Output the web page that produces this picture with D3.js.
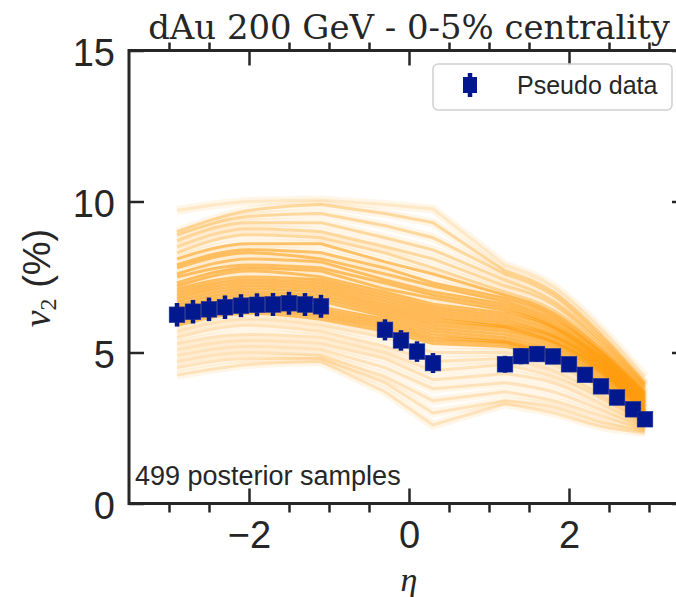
<!DOCTYPE html>
<html>
<head>
<meta charset="utf-8">
<script src="https://cdn.jsdelivr.net/npm/d3@7"></script>
<style>
  body { margin: 0; background: #fff; }
  svg { display: block; }
</style>
</head>
<body>
<div id="container"></div>
<script>
'use strict';

// pseudo data points (eta, v2 in %, error)
const dataEta = [-2.9, -2.7, -2.5, -2.3, -2.1, -1.9, -1.7, -1.5, -1.3, -1.1,
                 -0.3, -0.1, 0.1, 0.3,
                 1.2, 1.4, 1.6, 1.8, 2.0, 2.2, 2.4, 2.6, 2.8, 2.95];
const dataV2 = [6.25, 6.35, 6.43, 6.50, 6.55, 6.58, 6.59, 6.63, 6.59, 6.53,
                5.75, 5.40, 5.03, 4.65,
                4.61, 4.88, 4.95, 4.87, 4.61, 4.26, 3.88, 3.51, 3.12, 2.79];
const dataErr = [0.39, 0.39, 0.39, 0.39, 0.38, 0.38, 0.38, 0.38, 0.38, 0.38,
                 0.35, 0.34, 0.34, 0.33,
                 0.28, 0.27, 0.26, 0.25, 0.2, 0.2, 0.2, 0.2, 0.2, 0.2];

// posterior sample curves, read at these eta knots
const sampleEta = [-2.9, -2.0, -1.1, -0.3, 0.3, 1.2, 1.8, 2.4, 2.95];
const samples = [
  [9.7, 10.0, 10.05, 9.9, 9.75, 7.9, 7.2, 5.8, 4.2],
  [9.0, 9.7, 9.9, 9.6, 9.3, 7.7, 7.0, 5.6, 4.0],
  [8.9, 9.5, 9.6, 9.2, 8.8, 7.6, 6.9, 5.5, 3.95],
  [8.7, 9.3, 9.3, 8.8, 8.4, 7.4, 6.7, 5.4, 3.9],
  [8.5, 9.1, 9.0, 8.5, 8.1, 7.2, 6.6, 5.3, 3.85],
  [8.3, 8.9, 8.8, 8.3, 7.8, 7.0, 6.4, 5.2, 3.8],
  [8.1, 8.6, 8.6, 8.0, 7.6, 6.9, 6.3, 5.1, 3.7],
  [7.9, 8.4, 8.3, 7.8, 7.3, 6.8, 6.2, 5.0, 3.65],
  [7.8, 8.3, 8.1, 7.6, 7.2, 6.7, 6.1, 5.0, 3.6],
  [7.6, 8.1, 8.0, 7.4, 7.0, 6.6, 6.0, 4.9, 3.55],
  [7.5, 7.9, 7.8, 7.3, 6.9, 6.5, 5.9, 4.85, 3.5],
  [7.3, 7.8, 7.7, 7.1, 6.8, 6.4, 5.85, 4.8, 3.45],
  [7.2, 7.7, 7.5, 7.0, 6.6, 6.3, 5.8, 4.75, 3.4],
  [7.1, 7.5, 7.4, 6.9, 6.5, 6.2, 5.7, 4.7, 3.35],
  [7.0, 7.4, 7.3, 6.8, 6.4, 6.1, 5.6, 4.65, 3.3],
  [6.9, 7.3, 7.2, 6.7, 6.3, 6.0, 5.55, 4.6, 3.25],
  [6.8, 7.2, 7.1, 6.6, 6.2, 5.9, 5.5, 4.55, 3.2],
  [6.7, 7.1, 7.0, 6.5, 6.1, 5.85, 5.4, 4.5, 3.15],
  [6.6, 7.0, 6.9, 6.4, 6.0, 5.8, 5.35, 4.45, 3.1],
  [6.5, 6.9, 6.8, 6.3, 5.9, 5.7, 5.3, 4.4, 3.05],
  [6.4, 6.8, 6.7, 6.2, 5.8, 5.6, 5.2, 4.35, 3.0],
  [6.3, 6.7, 6.5, 6.1, 5.7, 5.5, 5.1, 4.3, 2.95],
  [6.2, 6.6, 6.4, 6.0, 5.6, 5.4, 5.0, 4.2, 2.9],
  [6.1, 6.5, 6.3, 5.9, 5.5, 5.35, 4.9, 4.1, 2.85],
  [6.0, 6.4, 6.2, 5.8, 5.4, 5.3, 4.85, 4.0, 2.8],
  [5.9, 6.3, 6.1, 5.7, 5.3, 5.2, 4.8, 3.9, 2.75],
  [5.7, 6.1, 5.9, 5.5, 5.0, 5.0, 4.6, 3.8, 2.7],
  [5.5, 5.9, 5.7, 5.2, 4.7, 4.8, 4.4, 3.6, 2.65],
  [5.3, 5.6, 5.5, 5.0, 4.4, 4.6, 4.2, 3.5, 2.6],
  [5.1, 5.4, 5.3, 4.8, 4.1, 4.3, 4.0, 3.3, 2.55],
  [4.9, 5.2, 5.1, 4.5, 3.8, 4.0, 3.7, 3.1, 2.5],
  [4.7, 5.0, 4.9, 4.2, 3.4, 3.7, 3.4, 2.9, 2.45],
  [4.5, 4.8, 4.8, 4.0, 3.0, 3.4, 3.2, 2.7, 2.4],
  [4.25, 4.6, 4.7, 3.7, 2.6, 3.3, 3.0, 2.55, 2.35]
];

const xMajor = [-2, 0, 2];
const xMinor = [-3, -2.5, -1.5, -1, -0.5, 0.5, 1, 1.5, 2.5, 3];
const yMajor = [0, 5, 10, 15];

const w = 676;
const h = 597;
const plotLeft = 129, plotRight = 689, plotTop = 50.5, plotBottom = 503.5;
const ink = '#262626';
const sansFont = '"Liberation Sans", Arial, sans-serif';

const svg = d3.select('#container')
  .append('svg')
  .attr('width', w)
  .attr('height', h);

const x = d3.scaleLinear().domain([-3.5, 3.5]).range([plotLeft, plotRight]);
const y = d3.scaleLinear().domain([0, 15]).range([plotBottom, plotTop]);

svg.append('clipPath').attr('id', 'plot-clip')
  .append('rect')
  .attr('x', plotLeft).attr('y', plotTop)
  .attr('width', plotRight - plotLeft).attr('height', plotBottom - plotTop);

// posterior sample lines: smooth inside the measured groups, straight across the gaps
const smooth = d3.line()
  .x((d) => x(d[0]))
  .y((d) => y(d[1]))
  .curve(d3.curveMonotoneX);
const straight = d3.line()
  .x((d) => x(d[0]))
  .y((d) => y(d[1]));
const samplePath = (vals) => {
  const pts = vals.map((v, i) => [sampleEta[i], v]);
  const a = smooth(pts.slice(0, 3));
  const b = straight(pts.slice(2, 6)).replace(/^M[^L]*/, '');
  const c = smooth(pts.slice(5)).replace(/^M[^CL]*/, '');
  return a + b + c;
};

const orange = '#ff9800';
const lines = svg.append('g').attr('clip-path', 'url(#plot-clip)');
lines.selectAll('path.halo')
  .data(samples)
  .enter()
  .append('path')
  .attr('class', 'halo')
  .attr('d', samplePath)
  .attr('fill', 'none')
  .attr('stroke', orange)
  .attr('stroke-width', 9)
  .attr('stroke-opacity', 0.09);
lines.selectAll('path.sample')
  .data(samples)
  .enter()
  .append('path')
  .attr('class', 'sample')
  .attr('d', samplePath)
  .attr('fill', 'none')
  .attr('stroke', orange)
  .attr('stroke-width', 3)
  .attr('stroke-opacity', (d, i) => i === 0 ? 0.15 : i < 6 ? 0.32 : i < 26 ? 0.55 : 0.2);

// pseudo data
const pts = svg.append('g');
const blue = '#02188f';
pts.selectAll('line')
  .data(dataEta)
  .enter()
  .append('line')
  .attr('x1', (d) => x(d))
  .attr('x2', (d) => x(d))
  .attr('y1', (d, i) => y(dataV2[i] - dataErr[i]))
  .attr('y2', (d, i) => y(dataV2[i] + dataErr[i]))
  .attr('stroke', blue)
  .attr('stroke-width', 4.5);
pts.selectAll('rect')
  .data(dataEta)
  .enter()
  .append('rect')
  .attr('x', (d) => x(d) - 7.8)
  .attr('y', (d, i) => y(dataV2[i]) - 7.8)
  .attr('width', 15.6)
  .attr('height', 15.6)
  .attr('fill', blue)
  .attr('stroke', '#1a2f9a')
  .attr('stroke-width', 0.6);

// axes: major ticks point inward, minor ticks outward
function styleAxis(g) {
  g.select('.domain').remove();
  g.selectAll('line').attr('stroke', ink).attr('stroke-width', 2.5);
  g.selectAll('text')
    .attr('fill', ink)
    .attr('font-family', sansFont)
    .attr('font-size', 38);
}

svg.append('g')
  .attr('transform', 'translate(0,' + plotBottom + ')')
  .call(d3.axisBottom(x).tickValues(xMajor).tickSize(-15).tickPadding(18)
    .tickFormat((d) => d < 0 ? '\u2212' + Math.abs(d) : d))
  .call(styleAxis);
svg.append('g')
  .attr('transform', 'translate(0,' + plotBottom + ')')
  .call(d3.axisBottom(x).tickValues(xMinor).tickSize(9).tickFormat(''))
  .call(styleAxis);
svg.append('g')
  .attr('transform', 'translate(0,' + plotTop + ')')
  .call(d3.axisTop(x).tickValues(xMajor).tickSize(-15).tickFormat(''))
  .call(styleAxis);
svg.append('g')
  .attr('transform', 'translate(0,' + plotTop + ')')
  .call(d3.axisTop(x).tickValues(xMinor).tickSize(8).tickFormat(''))
  .call(styleAxis);
svg.append('g')
  .attr('transform', 'translate(' + plotLeft + ',0)')
  .call(d3.axisLeft(y).tickValues(yMajor).tickSize(-15).tickPadding(14))
  .call(styleAxis)
  .selectAll('text').attr('dy', '0.4em');
svg.append('g')
  .attr('transform', 'translate(' + plotRight + ',0)')
  .call(d3.axisRight(y).tickValues(yMajor).tickSize(-17).tickFormat(''))
  .call(styleAxis);

// spines
svg.append('rect')
  .attr('x', plotLeft).attr('y', plotTop)
  .attr('width', plotRight - plotLeft).attr('height', plotBottom - plotTop)
  .attr('fill', 'none')
  .attr('stroke', ink)
  .attr('stroke-width', 3);

// axis labels
svg.append('text')
  .attr('x', x(0))
  .attr('y', 591)
  .attr('text-anchor', 'middle')
  .attr('font-family', '"Liberation Serif", "DejaVu Serif", serif')
  .attr('font-style', 'italic')
  .attr('font-size', 34)
  .attr('fill', ink)
  .text('\u03b7');

const yLabel = svg.append('text')
  .attr('transform', 'translate(50,278) rotate(-90)')
  .attr('text-anchor', 'middle')
  .attr('fill', ink);
yLabel.append('tspan')
  .attr('font-family', '"Liberation Serif", "DejaVu Serif", serif')
  .attr('font-style', 'italic')
  .attr('font-size', 38)
  .text('v');
yLabel.append('tspan')
  .attr('font-family', '"Liberation Serif", "DejaVu Serif", serif')
  .attr('font-size', 24)
  .attr('dy', 6)
  .text('2');
yLabel.append('tspan')
  .attr('font-family', sansFont)
  .attr('font-size', 38)
  .attr('dy', -6)
  .text(' (%)');

// title
const title = svg.append('text')
  .attr('x', 409)
  .attr('y', 39)
  .attr('text-anchor', 'middle')
  .attr('font-family', '"DejaVu Serif", serif')
  .attr('font-size', 30)
  .attr('fill', ink)
  .text('dAu 200 GeV - 0-5% centrality');
const tw = title.node().getComputedTextLength();
title.attr('font-size', 30 * 522 / tw);

// annotation
svg.append('text')
  .attr('x', 135)
  .attr('y', 485)
  .attr('font-family', sansFont)
  .attr('font-size', 27)
  .attr('fill', ink)
  .text('499 posterior samples');

// legend
const legend = svg.append('g');
legend.append('rect')
  .attr('x', 433).attr('y', 64)
  .attr('width', 239).attr('height', 46)
  .attr('rx', 5)
  .attr('fill', '#fff')
  .attr('fill-opacity', 0.85)
  .attr('stroke', '#d0d0d0')
  .attr('stroke-width', 1.5);
legend.append('line')
  .attr('x1', 470).attr('x2', 470)
  .attr('y1', 73).attr('y2', 97)
  .attr('stroke', blue)
  .attr('stroke-width', 4.5);
legend.append('rect')
  .attr('x', 470 - 7).attr('y', 85 - 8)
  .attr('width', 14).attr('height', 16)
  .attr('fill', blue);
legend.append('text')
  .attr('x', 517)
  .attr('y', 94)
  .attr('font-family', sansFont)
  .attr('font-size', 25)
  .attr('fill', ink)
  .text('Pseudo data');
</script>
</body>
</html>
